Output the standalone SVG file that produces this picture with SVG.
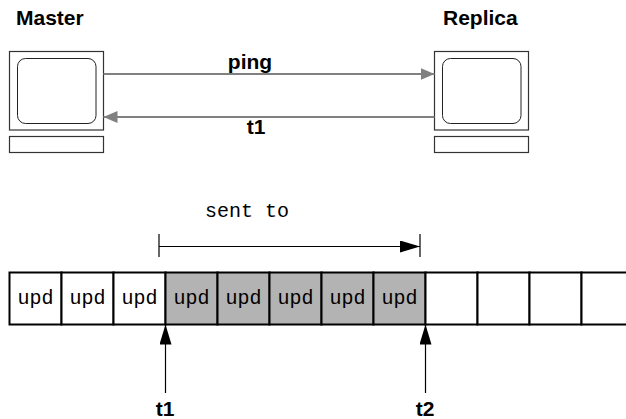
<svg xmlns="http://www.w3.org/2000/svg" width="626" height="419" viewBox="0 0 626 419">
<style>
.bold{font-family:"Liberation Sans",Arial,sans-serif;font-weight:bold;font-size:21px;fill:#000}
.mono{font-family:"Liberation Mono","Courier New",monospace;font-size:20px;fill:#000}
.scr{fill:#fff;stroke:#333;stroke-width:1.2}
.inner{fill:#fff;stroke:#222;stroke-width:1}
.msg{stroke:#808080;stroke-width:2.2;fill:none}
.cell{stroke:#000;stroke-width:2}
.white{fill:#fff}
.gray{fill:#b3b3b3}
.thin{stroke:#000;stroke-width:1.2;fill:none}
</style>
<defs>
<marker id="ga" markerUnits="userSpaceOnUse" viewBox="0 0 14 12" refX="14" refY="6" markerWidth="14" markerHeight="12" orient="auto">
<path d="M0,0 L14,6 L0,12 Z" fill="#808080"/>
</marker>
<marker id="ba" markerUnits="userSpaceOnUse" viewBox="0 0 20 12" refX="20" refY="6" markerWidth="20" markerHeight="12" orient="auto">
<path d="M0,0 L20,6 L0,12 Z" fill="#000"/>
</marker>
</defs>
<rect width="626" height="419" fill="#fff"/>
<g id="master">
<text class="bold" x="16" y="25">Master</text>
<rect class="scr" x="9.5" y="51.5" width="94" height="78.5"/>
<rect class="inner" x="17.5" y="58.5" width="78.5" height="65" rx="8"/>
<rect class="scr" x="9.5" y="136.5" width="94" height="16"/>
</g>
<g id="replica">
<text class="bold" x="443" y="25">Replica</text>
<rect class="scr" x="434.5" y="51.5" width="94" height="78.5"/>
<rect class="inner" x="442.5" y="58.5" width="78.5" height="65" rx="8"/>
<rect class="scr" x="434.5" y="136.5" width="94" height="16"/>
</g>
<g id="buffer">
<rect class="cell white" x="9.5" y="272.5" width="52" height="52"/>
<rect class="cell white" x="61.5" y="272.5" width="52" height="52"/>
<rect class="cell white" x="113.5" y="272.5" width="52" height="52"/>
<rect class="cell gray" x="165.5" y="272.5" width="52" height="52"/>
<rect class="cell gray" x="217.5" y="272.5" width="52" height="52"/>
<rect class="cell gray" x="269.5" y="272.5" width="52" height="52"/>
<rect class="cell gray" x="321.5" y="272.5" width="52" height="52"/>
<rect class="cell gray" x="373.5" y="272.5" width="52" height="52"/>
<rect class="cell white" x="425.5" y="272.5" width="52" height="52"/>
<rect class="cell white" x="477.5" y="272.5" width="52" height="52"/>
<rect class="cell white" x="529.5" y="272.5" width="52" height="52"/>
<rect class="cell white" x="581.5" y="272.5" width="60" height="52"/>
<g class="mono" text-anchor="middle">
<text x="35.5" y="304">upd</text>
<text x="87.5" y="304">upd</text>
<text x="139.5" y="304">upd</text>
<text x="191.5" y="304">upd</text>
<text x="243.5" y="304">upd</text>
<text x="295.5" y="304">upd</text>
<text x="347.5" y="304">upd</text>
<text x="399.5" y="304">upd</text>
</g>
</g>
<g id="connectors">
<line class="msg" x1="103.5" y1="74" x2="434.5" y2="74" marker-end="url(#ga)"/>
<line class="msg" x1="434.5" y1="117" x2="103.5" y2="117" marker-end="url(#ga)"/>
<text class="bold" x="250" y="69" text-anchor="middle">ping</text>
<text class="bold" x="256" y="134" text-anchor="middle">t1</text>
<line class="thin" x1="159" y1="234" x2="159" y2="257"/>
<line class="thin" x1="420" y1="234" x2="420" y2="257"/>
<line class="thin" x1="159" y1="246.5" x2="420" y2="246.5" marker-end="url(#ba)"/>
<text class="mono" x="205" y="217">sent to</text>
<line class="thin" x1="165.5" y1="393" x2="165.5" y2="324.5" marker-end="url(#ba)"/>
<line class="thin" x1="425.5" y1="393" x2="425.5" y2="324.5" marker-end="url(#ba)"/>
<text class="bold" x="165" y="416" text-anchor="middle">t1</text>
<text class="bold" x="425" y="416" text-anchor="middle">t2</text>
</g>
</svg>
